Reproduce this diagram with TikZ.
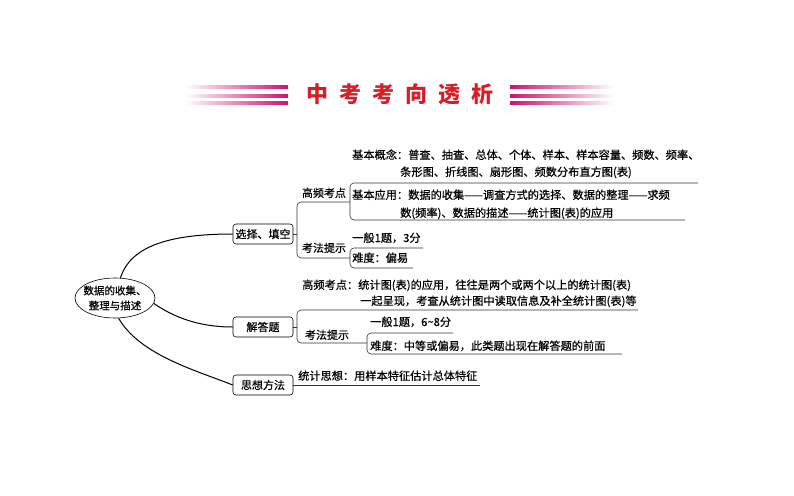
\documentclass[tikz,border=0pt]{standalone}
\usepackage{fontspec}
\newfontfamily\cjk[FakeBold=0.6]{Noto Sans CJK SC}
\newfontfamily\cjktitle{Noto Sans CJK SC}
\usetikzlibrary{shapes.geometric}
\definecolor{titlered}{RGB}{218,28,38}
\definecolor{stripemag}{RGB}{205,18,112}
\tikzset{
	mapcurve/.style={line width=1pt, color=black},
	branch/.style={line width=0.6pt, color=black!80, rounded corners=4pt},
	catbox/.style={draw, line width=0.6pt, rounded corners=3pt, minimum width=60pt, minimum height=20pt, inner sep=0pt, font=\cjk\fontsize{11}{13}\selectfont},
	lbl/.style={anchor=base, inner sep=0pt, font=\cjk\fontsize{11}{13}\selectfont},
	txt/.style={anchor=base west, inner sep=0pt, font=\cjk\fontsize{11.2}{13}\selectfont},
}

\begin{document}
\begin{tikzpicture}[x=1pt, y=-1pt]
		%%%%% START %%%%%
		\useasboundingbox (0, 0) rectangle (794, 495);
		
		% title banner
		\shade[left color=white, right color=stripemag] (185, 85.5) rectangle (288, 88.5);
		\shade[left color=white, right color=stripemag] (185, 94) rectangle (288, 97);
		\shade[left color=white, right color=stripemag] (185, 101.5) rectangle (288, 104.5);
		\shade[left color=stripemag, right color=white] (510, 85.5) rectangle (614, 88.5);
		\shade[left color=stripemag, right color=white] (510, 94) rectangle (614, 97);
		\shade[left color=stripemag, right color=white] (510, 101.5) rectangle (614, 104.5);
		\node[color=titlered, font=\cjktitle\bfseries\fontsize{22}{24}\selectfont] (title) at (400, 94) {中\hspace{11pt}考\hspace{11pt}考\hspace{11pt}向\hspace{11pt}透\hspace{11pt}析};
		
		% root and the three categories
		\node[ellipse, draw, line width=0.6pt, minimum width=80pt, minimum height=40pt] (root) at (115, 298) {};
		\node[align=center, inner sep=0pt, font=\cjk\fontsize{10.5}{15}\selectfont] (roottxt) at (root) {数据的收集、\\整理与描述};
		
		\node[catbox] (xz) at (263, 234) {选择、填空};
		\node[catbox] (jd) at (263, 327) {解答题};
		\node[catbox] (sx) at (263, 385) {思想方法};
		
		\draw[mapcurve] (root.75) .. controls (130, 248) and (165, 234) .. (xz.west);
		\draw[mapcurve] (root.-8) .. controls (175, 318) and (200, 327) .. (jd.west);
		\draw[mapcurve] (root.-80) .. controls (140, 355) and (195, 370) .. (sx.west);
		
		% choice / fill-in
		\coordinate (xzb) at (297, 234);
		\coordinate (gp1e) at (350, 202);
		\coordinate (kf1e) at (350, 258);
		\node[lbl] (gp1) at (324, 197) {高频考点};
		\node[lbl] (kf1) at (324, 252) {考法提示};
		\draw[branch] (xz.east) -- (xzb);
		\draw[branch] (gp1e) -- (gp1e -| xzb) -- (kf1e -| xzb) -- (kf1e);
		
		\node[txt] (gn1) at (352, 159) {基本概念：普查、抽查、总体、个体、样本、样本容量、频数、频率、};
		\node[txt] (gn2) at (400, 176) {条形图、折线图、扇形图、频数分布直方图(表)};
		\node[txt] (gy1) at (352, 199) {基本应用：数据的收集——调查方式的选择、数据的整理——求频};
		\node[txt] (gy2) at (400, 217) {数(频率)、数据的描述——统计图(表)的应用};
		\coordinate (gnR) at (698, 183);
		\coordinate (gyR) at (685, 220);
		\draw[branch] (gnR) -- (gnR -| gp1e) -- (gyR -| gp1e) -- (gyR);
		
		\node[txt] (yb1) at (352, 242) {一般1题，3分};
		\node[txt] (nd1) at (352, 262) {难度：偏易};
		\coordinate (yb1R) at (423, 248);
		\coordinate (nd1R) at (413, 268);
		\draw[branch] (yb1R) -- (yb1R -| kf1e) -- (nd1R -| kf1e) -- (nd1R);
		
		% answer questions
		\coordinate (jdb) at (297, 327);
		\coordinate (gkR) at (638, 310);
		\coordinate (kf2e) at (367, 343);
		\node[txt] (gk1) at (302, 289) {高频考点：统计图(表)的应用，往往是两个或两个以上的统计图(表)};
		\node[txt] (gk2) at (360, 305) {一起呈现，考查从统计图中读取信息及补全统计图(表)等};
		\node[lbl] (kf2) at (327, 339) {考法提示};
		\draw[branch] (jd.east) -- (jdb);
		\draw[branch] (gkR) -- (gkR -| jdb) -- (kf2e -| jdb) -- (kf2e);
		
		\node[txt] (yb2) at (370, 326) {一般1题，6\textasciitilde8分};
		\node[txt] (nd2) at (370, 350) {难度：中等或偏易，此类题出现在解答题的前面};
		\coordinate (yb2R) at (453, 333);
		\coordinate (nd2R) at (622, 354);
		\draw[branch] (yb2R) -- (yb2R -| kf2e) -- (nd2R -| kf2e) -- (nd2R);
		
		% thinking method
		\node[txt] (tj) at (298, 380) {统计思想：用样本特征估计总体特征};
		\coordinate (tjR) at (480, 385);
		\draw[branch] (sx.east) -- (tjR);
		
		%%%%% END %%%%%
	\end{tikzpicture}
\end{document}
